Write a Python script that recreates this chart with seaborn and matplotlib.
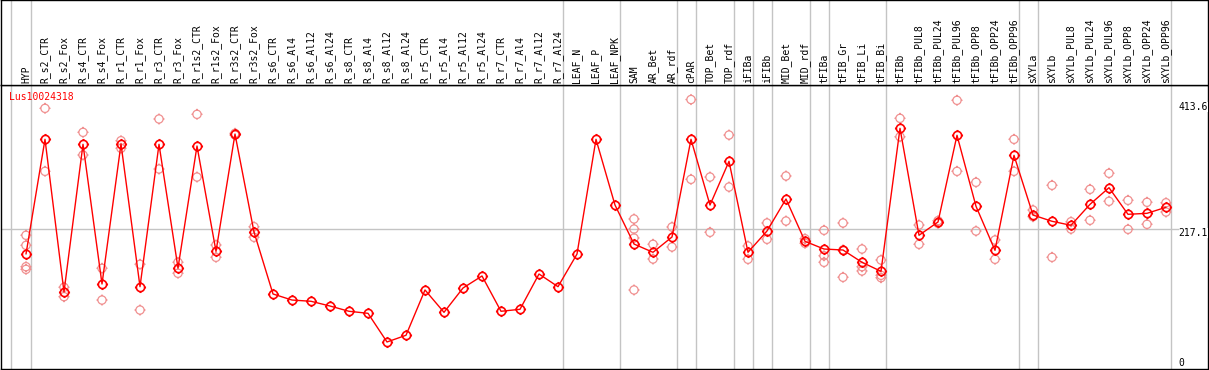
import numpy as np
import pandas as pd
import seaborn as sns
import matplotlib.pyplot as plt
from matplotlib.path import Path
from matplotlib import transforms

sns.set_theme(style='white')
plt.rcParams['font.family'] = ['DejaVu Sans Mono']

gene = 'Lus10024318'

samples = ['HYP', 'R_s2_CTR', 'R_s2_Fox', 'R_s4_CTR', 'R_s4_Fox', 'R_r1_CTR',
           'R_r1_Fox', 'R_r3_CTR', 'R_r3_Fox', 'R_r1s2_CTR', 'R_r1s2_Fox',
           'R_r3s2_CTR', 'R_r3s2_Fox', 'R_s6_CTR', 'R_s6_Al4', 'R_s6_Al12',
           'R_s6_Al24', 'R_s8_CTR', 'R_s8_Al4', 'R_s8_Al12', 'R_s8_Al24',
           'R_r5_CTR', 'R_r5_Al4', 'R_r5_Al12', 'R_r5_Al24', 'R_r7_CTR',
           'R_r7_Al4', 'R_r7_Al12', 'R_r7_Al24', 'LEAF_N', 'LEAF_P',
           'LEAF_NPK', 'SAM', 'AR_Bet', 'AR_rdf', 'cPAR', 'TOP_Bet', 'TOP_rdf',
           'iFIBa', 'iFIBb', 'MID_Bet', 'MID_rdf', 'tFIBa', 'tFIB_Gr',
           'tFIB_Li', 'tFIB_Bi', 'tFIBb', 'tFIBb_PUL8', 'tFIBb_PUL24',
           'tFIBb_PUL96', 'tFIBb_OPP8', 'tFIBb_OPP24', 'tFIBb_OPP96', 'sXYLa',
           'sXYLb', 'sXYLb_PUL8', 'sXYLb_PUL24', 'sXYLb_PUL96', 'sXYLb_OPP8',
           'sXYLb_OPP24', 'sXYLb_OPP96']

# mean expression per sample (red line)
means = [178.6, 353.1, 120.8, 345.5, 133.0, 345.9, 128.9, 345.5, 157.3,
         342.9, 182.7, 361.1, 212.1, 117.8, 108.6, 106.7, 99.5, 91.5, 88.4,
         44.8, 55.0, 123.9, 89.9, 126.9, 145.2, 91.5, 94.5, 148.2, 128.9,
         178.6, 353.1, 253.1, 193.8, 181.2, 204.5, 353.1, 253.1, 319.6,
         181.2, 213.6, 262.3, 197.9, 186.2, 184.7, 166.0, 152.3, 369.8,
         207.1, 227.3, 359.2, 251.2, 184.2, 328.7, 237.9, 228.4, 222.3,
         254.2, 279.5, 239.0, 240.5, 249.7]

# individual replicates (light red circles)
replicates = [
    [207.1, 191.8, 159.3, 155.3], [400.2, 304.4], [128.0, 113.7],
    [363.7, 329.2], [156.9, 108.6], [351.0, 339.4], [163.0, 93.4],
    [384.0, 307.9], [166.0, 149.3], [391.1, 295.7], [192.3, 173.6],
    [362.2, 359.6], [220.1, 204.0],
    [], [], [], [], [], [], [], [], [], [], [], [], [], [], [], [], [], [], [],
    [231.9, 216.6, 203.0, 123.9], [193.4, 171.0], [219.7, 189.3],
    [413.6, 292.2], [295.7, 211.6], [359.6, 280.5], [190.8, 170.6],
    [225.8, 201.0], [297.3, 228.8], [201.9, 194.9], [214.7, 176.0, 166.0],
    [225.8, 184.7, 143.2], [186.2, 159.3, 152.8], [169.5, 146.2, 142.6],
    [385.0, 357.0], [222.7, 193.4], [229.3, 225.3], [412.4, 304.4],
    [287.7, 213.6], [199.9, 170.6], [353.1, 304.4], [245.5, 235.4],
    [283.1, 173.6], [227.7, 216.6], [277.0, 229.9], [301.4, 258.8],
    [260.3, 216.2], [257.3, 223.8], [256.6, 242.5]]

# a separator line follows each of these samples
group_ends = ['HYP', 'R_r7_Al24', 'LEAF_NPK', 'AR_rdf', 'cPAR', 'TOP_rdf',
              'iFIBa', 'iFIBb', 'MID_rdf', 'tFIBa', 'tFIB_Bi', 'tFIBb_OPP96',
              'sXYLa', 'sXYLb_OPP96']

y_labels = [413.6, 217.1, 0]


def tick_circle():
    """open circle with four small ticks, like the original marker"""
    t = np.linspace(0, 2 * np.pi, 33)
    ring = np.column_stack([np.cos(t), np.sin(t)])
    verts = list(ring)
    codes = [Path.MOVETO] + [Path.LINETO] * (len(ring) - 1)
    for dx, dy in [(1, 0), (-1, 0), (0, 1), (0, -1)]:
        verts += [(dx, dy), (1.35 * dx, 1.35 * dy)]
        codes += [Path.MOVETO, Path.LINETO]
    return Path(verts, codes)


def main():
    pos = np.arange(len(samples))
    mean_df = pd.DataFrame({'pos': pos, 'value': means})
    rep_df = pd.DataFrame([(i, v) for i, reps in enumerate(replicates)
                           for v in reps], columns=['pos', 'value'])

    fig = plt.figure(figsize=(12.09, 3.70), dpi=100)
    W, H = 1209.0, 370.0
    ax = fig.add_axes([1 / W, 1 / H, 1206.7 / W, 284 / H])
    hx = fig.add_axes([1 / W, 285 / H, 1206.7 / W, 85 / H])

    xlim = (-25 / 19, 1181.7 / 19)
    mark = tick_circle()
    grey = '#c4c4c4'

    sns.scatterplot(data=rep_df, x='pos', y='value', ax=ax, marker=mark,
                    s=64, facecolor='none', edgecolor='#f09090',
                    linewidth=0.9, zorder=3)
    sns.lineplot(data=mean_df, x='pos', y='value', ax=ax, color='#ff0000',
                 linewidth=1.0, marker=mark, markersize=8.0,
                 markerfacecolor='none', markeredgecolor='#ff0000',
                 markeredgewidth=1.2, errorbar=None, zorder=4)

    ax.set_xlim(*xlim)
    ax.set_ylim(3.7, 435.7)
    ax.axhline(217.1, color=grey, linewidth=1.0, zorder=1)

    seps = [-0.8] + [samples.index(s) + 0.25 for s in group_ends]
    for a in (ax, hx):
        for x in seps:
            a.axvline(x, color=grey, linewidth=1.0, zorder=1)
        a.set_xticks([])
        a.set_yticks([])
        a.set_xlabel('')
        a.set_ylabel('')
        for sp in a.spines.values():
            sp.set_color('black')
            sp.set_linewidth(1.0)
    hx.set_xlim(*xlim)
    hx.set_ylim(0, 1)

    # rotated sample names in the header strip
    for i, name in enumerate(samples):
        hx.text(i, 0.025, name, rotation=90, ha='center', va='bottom',
                fontsize=7, color='black')

    ax.text(0.0069, 0.957, gene, transform=ax.transAxes, color='#ff0000',
            fontsize=7, ha='left', va='center')

    # value labels at the right edge
    base = transforms.blended_transform_factory(ax.transAxes, ax.transData)
    shifts = {413.6: -7.9, 217.1: -4.3, 0: 8.7}
    for v in y_labels:
        tr = transforms.offset_copy(base, fig=fig, y=shifts[v], units='dots')
        lab = '0' if v == 0 else '%.1f' % v
        ax.text(0.976, v, lab, transform=tr, ha='left', va='center',
                fontsize=7, color='black', clip_on=False,
                bbox=dict(facecolor='white', edgecolor='none', pad=0))

    fig.savefig('out.png', dpi=100)


if __name__ == '__main__':
    main()
